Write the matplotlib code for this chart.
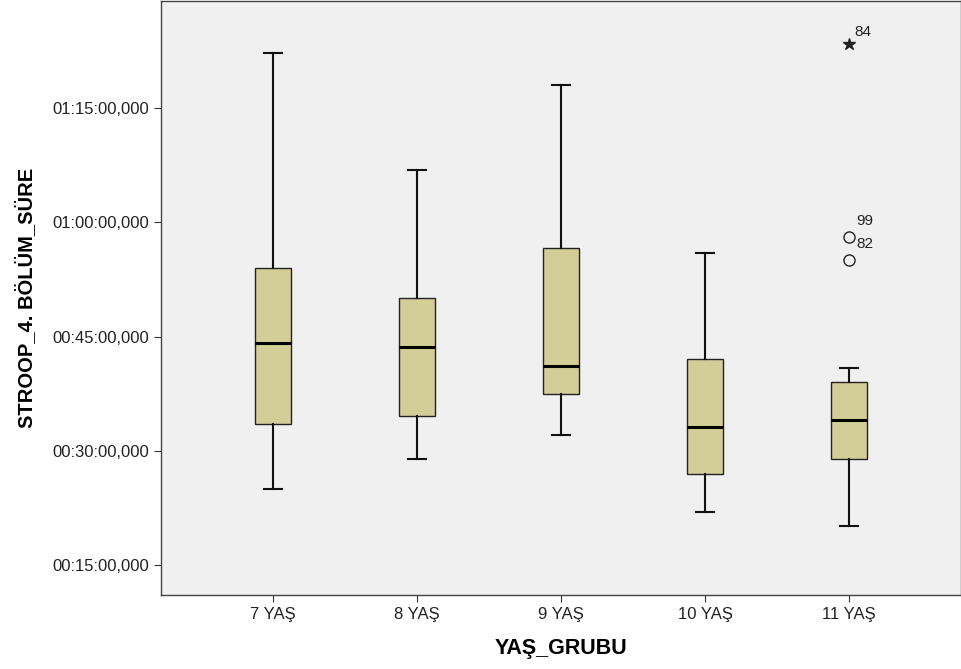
import matplotlib
matplotlib.use("Agg")
import matplotlib.pyplot as plt
from matplotlib.ticker import FuncFormatter

# group labels and box statistics (minutes)
groups = ["7 YAŞ", "8 YAŞ", "9 YAŞ", "10 YAŞ", "11 YAŞ"]
whislo = [25.0, 29.0, 32.1, 22.0, 20.2]
q1 = [33.6, 34.6, 37.5, 27.0, 29.0]
med = [44.1, 43.6, 41.1, 33.1, 34.1]
q3 = [54.0, 50.1, 56.6, 42.1, 39.1]
whishi = [82.2, 66.9, 78.0, 55.9, 40.9]

# outliers for 11 YAŞ
circle_vals = [58.0, 55.0]
circle_ids = ["99", "82"]
star_vals = [83.3]
star_ids = ["84"]
outlier_group = 4

plt.rcParams['font.family'] = ['Liberation Sans', 'DejaVu Sans']

fig = plt.figure(figsize=(9.62, 6.69), dpi=100)
ax = fig.add_axes([0.1674, 0.111, 0.8316, 0.8875])
ax.set_facecolor("#F0F0F0")

stats = []
for i in range(len(groups)):
    stats.append({"whislo": whislo[i], "q1": q1[i], "med": med[i],
                  "q3": q3[i], "whishi": whishi[i], "fliers": []})

ax.bxp(stats, positions=range(len(groups)), widths=0.25, patch_artist=True,
       showfliers=False,
       boxprops=dict(facecolor="#D3CE97", edgecolor="#222222", linewidth=1.0),
       medianprops=dict(color="black", linewidth=2.2),
       whiskerprops=dict(color="#111111", linewidth=1.5),
       capprops=dict(color="#111111", linewidth=1.5),
       capwidths=0.13)

ax.plot([outlier_group] * len(circle_vals), circle_vals, 'o', mfc='none',
        mec='#222222', ms=8, mew=1.0)
ax.plot([outlier_group] * len(star_vals), star_vals, '*', color='#222222', ms=9)
for v, t in zip(circle_vals, circle_ids):
    ax.annotate(t, (outlier_group, v), xytext=(5, 6.5), textcoords='offset points',
                fontsize=11, color='#222222', va='bottom')
for v, t in zip(star_vals, star_ids):
    ax.annotate(t, (outlier_group, v), xytext=(3.6, 4.3), textcoords='offset points',
                fontsize=11, color='#222222', va='bottom')

ax.set_xlim(-0.778, 4.778)
ax.set_ylim(11.15, 89.0)
ax.set_xticks(range(len(groups)))
ax.set_xticklabels(groups, fontsize=12, color='#222222')
ax.set_yticks([15, 30, 45, 60, 75])


def fmt(v, pos):
    v = int(round(v))
    return "%02d:%02d:00,000" % (v // 60, v % 60)


ax.yaxis.set_major_formatter(FuncFormatter(fmt))
ax.tick_params(axis='y', labelsize=12, labelcolor='#222222', length=5, color='#333333')
ax.tick_params(axis='x', length=5, color='#333333')
for s in ax.spines.values():
    s.set_color('#444444')
    s.set_linewidth(1.0)

ax.set_xlabel("YAŞ_GRUBU", fontsize=15.5, fontweight='bold', labelpad=12)
ax.set_ylabel("STROOP_4. BÖLÜM_SÜRE", fontsize=14.5, fontweight='bold', labelpad=12)

fig.savefig("out.png", dpi=100)
